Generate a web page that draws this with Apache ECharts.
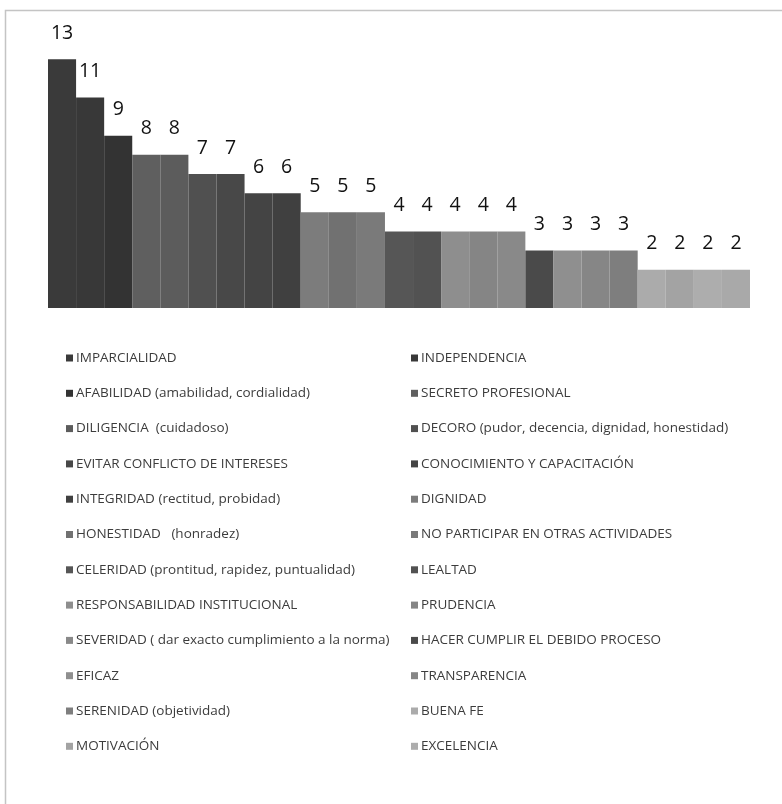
<!DOCTYPE html>
<html>
<head>
<meta charset="utf-8">
<script src="https://cdn.jsdelivr.net/npm/echarts@6/dist/echarts.min.js"></script>
<style>html,body{margin:0;padding:0;background:#fff}#c{width:782px;height:804px}</style>
</head>
<body>
<div id="c"></div>
<script>
// Categories (series names), in bar order
const names = [
  'IMPARCIALIDAD', 'INDEPENDENCIA', 'AFABILIDAD (amabilidad, cordialidad)', 'SECRETO PROFESIONAL',
  'DILIGENCIA  (cuidadoso)', 'DECORO (pudor, decencia, dignidad, honestidad)',
  'EVITAR CONFLICTO DE INTERESES', 'CONOCIMIENTO Y CAPACITACIÓN',
  'INTEGRIDAD (rectitud, probidad)', 'DIGNIDAD', 'HONESTIDAD   (honradez)',
  'NO PARTICIPAR EN OTRAS ACTIVIDADES', 'CELERIDAD (prontitud, rapidez, puntualidad)', 'LEALTAD',
  'RESPONSABILIDAD INSTITUCIONAL', 'PRUDENCIA', 'SEVERIDAD ( dar exacto cumplimiento a la norma)',
  'HACER CUMPLIR EL DEBIDO PROCESO', 'EFICAZ', 'TRANSPARENCIA', 'SERENIDAD (objetividad)',
  'BUENA FE', 'MOTIVACIÓN', 'EXCELENCIA', 'OTROS'
];
// Values
const values = [13, 11, 9, 8, 8, 7, 7, 6, 6, 5, 5, 5, 4, 4, 4, 4, 4, 3, 3, 3, 3, 2, 2, 2, 2];
// Bar colours (greys)
const colors = [
  '#3a3a3a', '#383838', '#333333', '#5f5f5f', '#5c5c5c', '#505050', '#484848', '#444444', '#404040',
  '#7c7c7c', '#717171', '#7a7a7a', '#565656', '#525252', '#8e8e8e', '#858585', '#898989',
  '#4a4a4a', '#8f8f8f', '#868686', '#7e7e7e', '#ababab', '#a3a3a3', '#adadad', '#a9a9a9'
];
// Legend columns (the last series is not listed, as in the reference)
const legendLeft = names.slice(0, 24).filter((_, i) => i % 2 === 0);
const legendRight = names.slice(0, 24).filter((_, i) => i % 2 === 1);

const chart = echarts.init(document.getElementById('c'));
const legendCommon = {
  orient: 'vertical',
  top: 344.5,
  itemWidth: 7,
  itemHeight: 7,
  itemGap: 18.3,
  icon: 'rect',
  selectedMode: false,
  textStyle: { fontFamily: 'Open Sans', fontSize: 13.5, color: '#3c3c3c', lineHeight: 17, padding: [0, 0, 0, -2] }
};
chart.setOption({
  animation: false,
  backgroundColor: '#fff',
  graphic: [{
    type: 'rect',
    shape: { x: 5.5, y: 10.5, width: 820, height: 820 },
    style: { fill: 'none', stroke: '#c4c4c4', lineWidth: 1.5 },
    silent: true
  }],
  grid: { left: 48, right: 32, top: 40, height: 268 },
  legend: [
    Object.assign({}, legendCommon, { left: 61, data: legendLeft }),
    Object.assign({}, legendCommon, { left: 406, data: legendRight })
  ],
  xAxis: { type: 'category', data: [''], show: false },
  yAxis: { type: 'value', min: 0, max: 14, show: false },
  series: names.map((n, i) => ({
    type: 'bar',
    name: n,
    data: [values[i]],
    barGap: '0%',
    barCategoryGap: '0%',
    itemStyle: { color: colors[i] },
    label: {
      show: true, position: 'top', distance: 16,
      fontFamily: 'Open Sans', fontSize: 19.5, color: '#111'
    }
  }))
});
</script>
</body>
</html>
